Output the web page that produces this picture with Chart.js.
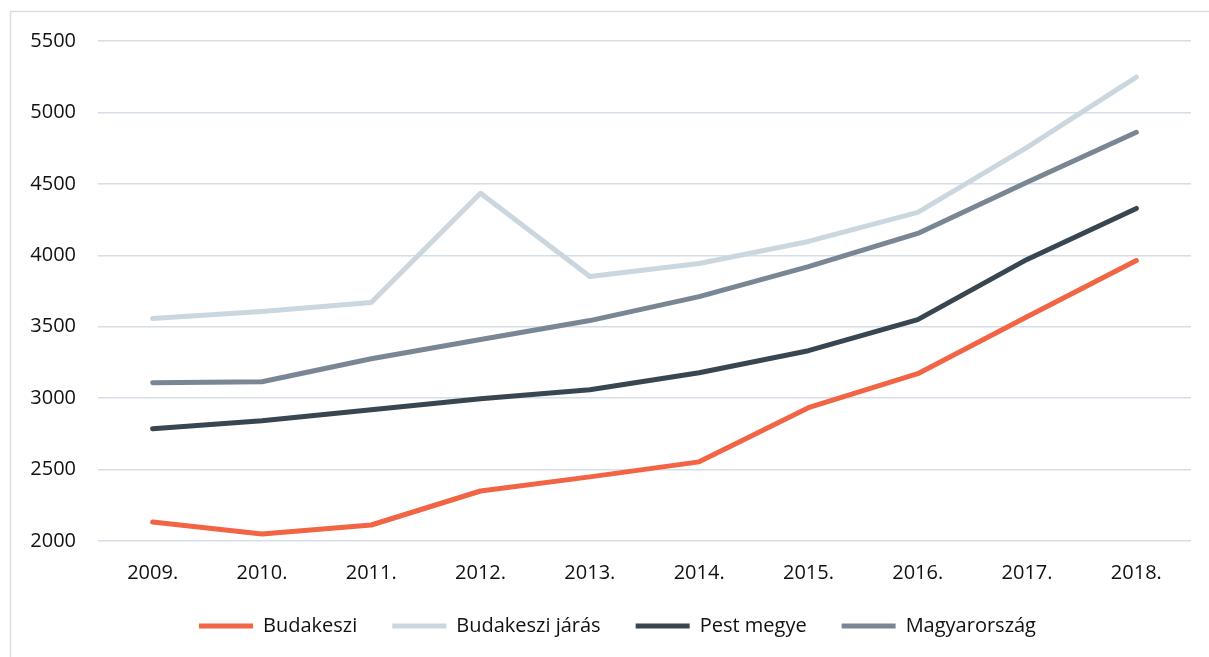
<!DOCTYPE html>
<html>
<head>
<meta charset="utf-8">
<script src="https://cdn.jsdelivr.net/npm/chart.js@4"></script>
<style>
html,body{margin:0;padding:0;background:#fff;}
#wrap{width:1209px;height:657px;position:relative;}
</style>
</head>
<body>
<div id="wrap"><canvas id="c" width="1209" height="657"></canvas></div>
<script>
const years = ["2009.","2010.","2011.","2012.","2013.","2014.","2015.","2016.","2017.","2018."];
const budakeszi = [2133, 2049, 2112, 2350, 2449, 2554, 2933, 3171, 3570, 3963];
const budakesziJaras = [3557, 3606, 3669, 4434, 3852, 3943, 4097, 4300, 4756, 5247];
const pestMegye = [2785, 2841, 2919, 2996, 3059, 3178, 3332, 3550, 3971, 4328];
const magyarorszag = [3108, 3115, 3276, 3410, 3543, 3711, 3921, 4153, 4511, 4861];
const yTicks = [2000, 2500, 3000, 3500, 4000, 4500, 5000, 5500];

const FONT = '"Open Sans", sans-serif';

const framePlugin = {
  id: 'frame',
  beforeDraw(chart) {
    const ctx = chart.ctx;
    ctx.save();
    ctx.fillStyle = '#fff';
    ctx.fillRect(0, 0, chart.width, chart.height);
    ctx.strokeStyle = '#D6DEE8';
    ctx.lineWidth = 1.5;
    ctx.strokeRect(10.5, 11.5, chart.width + 20, chart.height + 20);
    ctx.restore();
  },
  afterLayout(chart) {
    if (chart.legend) chart.legend.left += 34;
  }
};

function ds(label, data, color) {
  return {
    label, data,
    borderColor: color, backgroundColor: color,
    borderWidth: 5, pointRadius: 0, pointHoverRadius: 0,
    tension: 0, borderJoinStyle: 'round', borderCapStyle: 'round',
    fill: false
  };
}

new Chart(document.getElementById('c'), {
  type: 'line',
  data: {
    labels: years,
    datasets: [
      ds('Budakeszi', budakeszi, '#F16444'),
      ds('Budakeszi járás', budakesziJaras, '#CBD7DF'),
      ds('Pest megye', pestMegye, '#384652'),
      ds('Magyarország', magyarorszag, '#798794')
    ]
  },
  options: {
    responsive: false,
    animation: false,
    events: [],
    layout: { padding: { left: 10, right: 18, top: 41, bottom: 11 } },
    scales: {
      x: {
        offset: true,
        grid: { display: false, drawTicks: false },
        border: { display: false },
        ticks: { color: '#111', font: { family: FONT, size: 20 }, padding: 20, maxRotation: 0 },
        afterFit(s) { s.height = 40; }
      },
      y: {
        min: 2000, max: 5500,
        afterBuildTicks(s) { s.ticks = yTicks.map(v => ({ value: v })); },
        grid: { color: '#D6DEE8', lineWidth: 1.5, drawTicks: false },
        border: { display: false },
        ticks: { color: '#111', font: { family: FONT, size: 20 }, padding: 22, callback: v => String(v) },
        afterFit(s) { s.width = 88; }
      }
    },
    plugins: {
      legend: {
        position: 'bottom',
        labels: {
          color: '#111',
          font: { family: FONT, size: 20 },
          usePointStyle: true,
          pointStyle: 'line',
          pointStyleWidth: 54,
          padding: 35
        }
      },
      tooltip: { enabled: false }
    }
  },
  plugins: [framePlugin]
});
</script>
</body>
</html>
